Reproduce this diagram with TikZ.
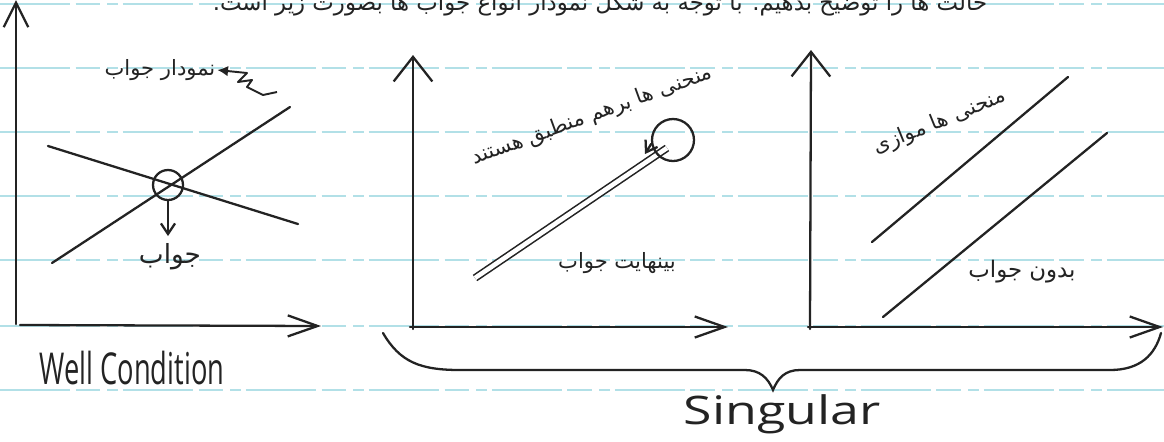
\documentclass[tikz,border=0pt]{standalone}
\usepackage{fontspec}
\usepackage{graphicx}
\usetikzlibrary{arrows.meta}
\setmainfont{Open Sans}
\newfontfamily\arabicfont[Script=Arabic]{DejaVu Sans}
\TeXXeTstate=1
\definecolor{ink}{RGB}{35,35,35}
\definecolor{ruling}{RGB}{178,224,231}
\tikzset{
  inkline/.style={draw=ink, line width=1.3pt, line cap=round},
  ruleline/.style={draw=ruling, line width=0.6pt, dash pattern=on 40pt off 3pt on 14pt off 4pt on 6pt off 3pt},
  xaxis/.style={inkline, -{Straight Barb[length=17pt,width=12pt,line width=1.3pt]}},
  yaxis/.style={inkline, -{Straight Barb[length=14pt,width=22pt,line width=1.3pt]}},
  smallarrow/.style={inkline, -{Straight Barb[length=6pt,width=8pt,line width=1.3pt]}},
  fa/.style={font=\arabicfont\fontsize{12}{14}\selectfont, text=ink, inner sep=1pt},
  hand/.style={text=ink, inner sep=1pt},
  ring/.style={circle, draw=ink, line width=1.3pt, inner sep=0pt},
}
\begin{document}
\begin{tikzpicture}[x=0.02cm,y=-0.02cm]
\useasboundingbox (0,0) rectangle (1164,441);
\clip (0,0) rectangle (1164,441);
\fill[white] (0,0) rectangle (1164,441);
% notebook ruling
\foreach \yy in {4,68,132,196,260,326,390} \draw[ruleline] (0,\yy) -- (1164,\yy);

% cut-off top sentence
\node[fa, font=\arabicfont\fontsize{13}{15}\selectfont, anchor=base] (toptext) at (600,10)
  {\beginR حالت ها را توضیح بدهیم. با توجه به شکل نمودار انواع جواب ها بصورت زیر است.\endR};

% ---------- panel 1: well condition ----------
\coordinate (o1) at (16,324);
\coordinate (y1) at (16,0);
\coordinate (o1x) at (20,325);
\coordinate (x1) at (321,326);
\draw[inkline, -{Straight Barb[length=14pt,width=14pt,line width=1.3pt]}] (o1) -- (y1);
\draw[xaxis] (o1x) -- (x1);
\coordinate (a1) at (52,263);
\coordinate (a2) at (290,107);
\coordinate (b1) at (48,146);
\coordinate (b2) at (298,224);
\draw[inkline] (a1) -- (a2);
\draw[inkline] (b1) -- (b2);
\node[ring, minimum size=0.6cm] (sol) at (168,185) {};
\node[fa, font=\arabicfont\fontsize{15}{17}\selectfont] (ans) at (170,257) {\beginR جواب\endR};
\draw[smallarrow] (sol.south) -- (168,236);
\node[fa] (graphlab) at (160,70) {\beginR نمودار جواب\endR};
\coordinate (z1) at (247,73);
\coordinate (z2) at (238,82);
\coordinate (z3) at (252,80);
\coordinate (z4) at (247,87);
\coordinate (z5) at (263,95);
\coordinate (z6) at (277,92);
\draw[draw=ink, line width=1.1pt, line join=round, {Latex[length=6pt,width=6pt]}-] (graphlab.east) -- (z1) -- (z2) -- (z3) -- (z4) -- (z5) -- (z6);
\node[hand, anchor=center] (wc) at (132,368) {\resizebox{105pt}{19pt}{Well Condition}};

% ---------- panel 2: coincident ----------
\coordinate (o2) at (413,329);
\coordinate (y2) at (413,55);
\coordinate (o2x) at (410,327);
\coordinate (x2) at (728,327);
\draw[yaxis] (o2) -- (y2);
\draw[xaxis] (o2x) -- (x2);
\coordinate (d1) at (475,278);
\coordinate (d2) at (667,148);
\draw[draw=ink, line width=0.9pt, double=white, double distance=2.6pt] (d1) -- (d2);
\node[ring, minimum size=0.84cm] (c2) at (673,140) {};
\coordinate (c2t) at (645,154);
\draw[smallarrow] (c2.190) -- (c2t);
\node[fa, rotate=20] (coinc) at (592,116) {\beginR منحنی ها برهم منطبق هستند\endR};
\node[fa] (inf) at (617,263) {\beginR بینهایت جواب\endR};

% ---------- panel 3: parallel ----------
\coordinate (o3) at (810,329);
\coordinate (y3) at (811,50);
\coordinate (o3x) at (808,327);
\coordinate (x3) at (1163,327);
\draw[yaxis] (o3) -- (y3);
\draw[xaxis] (o3x) -- (x3);
\coordinate (p1) at (872,242);
\coordinate (p2) at (1068,77);
\coordinate (q1) at (883,317);
\coordinate (q2) at (1107,133);
\draw[inkline] (p1) -- (p2);
\draw[inkline] (q1) -- (q2);
\node[fa, rotate=22] (par) at (940,122) {\beginR منحنی ها موازی\endR};
\node[fa, font=\arabicfont\fontsize{13}{15}\selectfont] (nosol) at (1022,272) {\beginR بدون جواب\endR};

% ---------- brace ----------
\coordinate (bl) at (383,333);
\coordinate (bt) at (773,390);
\coordinate (br) at (1161,333);
\draw[inkline] (bl) .. controls (400,362) and (420,370) .. (460,370) -- (745,370)
  .. controls (760,370) and (768,378) .. (bt)
  .. controls (778,378) and (785,370) .. (800,370) -- (1110,370)
  .. controls (1140,370) and (1155,355) .. (br);
\node[hand, anchor=center] (sg) at (782,414) {\resizebox{112pt}{17pt}{Singular}};
\end{tikzpicture}
\end{document}
